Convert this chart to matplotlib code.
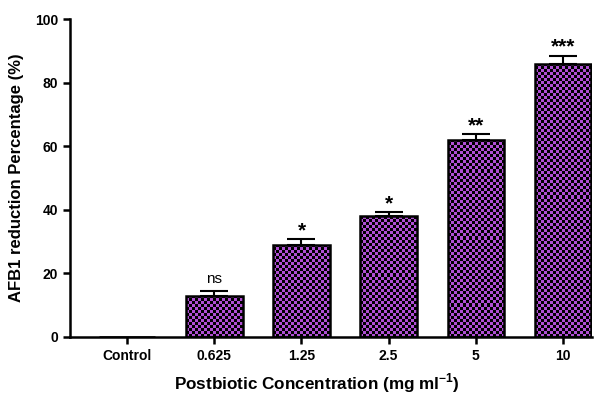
import numpy as np
import matplotlib
matplotlib.use("Agg")
import matplotlib.pyplot as plt
from matplotlib import font_manager
from matplotlib.colors import ListedColormap

plt.rcParams['mathtext.fontset'] = 'custom'
plt.rcParams['mathtext.rm'] = 'Liberation Sans:bold'
plt.rcParams['mathtext.bf'] = 'Liberation Sans:bold'

bold_file = None
for f in font_manager.findSystemFonts():
    if f.endswith("LiberationSans-Bold.ttf"):
        bold_file = f

def bold(size):
    if bold_file:
        return font_manager.FontProperties(fname=bold_file, size=size)
    return font_manager.FontProperties(family="DejaVu Sans", weight="bold", size=size)

categories = ["Control", "0.625", "1.25", "2.5", "5", "10"]
reduction = [0, 13, 29, 38, 62, 86]
errors = [0, 1.5, 1.8, 1.3, 1.8, 2.5]
signif = ["", "ns", "*", "*", "**", "***"]

purple = "#b04fd4"
checker_cmap = ListedColormap([purple, "black"])

fig = plt.figure(figsize=(6.11, 4.03), dpi=100)
ax = fig.add_axes([0.1146, 0.1638, 0.854, 0.789])

x = np.arange(len(categories))
bars = ax.bar(x, reduction, width=0.65, facecolor="none", edgecolor="black",
              linewidth=1.8, zorder=3)
ax.errorbar(x[1:], reduction[1:], yerr=[np.zeros(len(x) - 1), errors[1:]],
            fmt="none", ecolor="black", elinewidth=1.5, capsize=10,
            capthick=1.5, zorder=2)

ax.set_xlim(-0.655, 5.33)
ax.set_ylim(0, 100)

# checkerboard fill clipped to each bar
cell_w = 0.034
cell_h = 0.95
for b in bars:
    h = b.get_height()
    if h <= 0:
        continue
    nx = int(round(b.get_width() / cell_w))
    ny = int(round(h / cell_h))
    ii, jj = np.indices((ny, nx))
    board = (ii + jj) % 2
    im = ax.imshow(board, cmap=checker_cmap, extent=(b.get_x(), b.get_x() + b.get_width(), 0, h),
                   aspect="auto", interpolation="nearest", origin="lower", zorder=2.5)
    im.set_clip_path(b)

for xi, v, e, s in zip(x, reduction, errors, signif):
    if not s:
        continue
    if s == "ns":
        ax.text(xi, v + e + 1.5, s, ha="center", va="bottom", fontsize=11,
                family=["Liberation Sans", "DejaVu Sans"])
    else:
        ax.text(xi, v + e - 0.3, s, ha="center", va="bottom", fontproperties=bold(15))

ax.set_xticks(x)
ax.set_xticklabels(categories, fontproperties=bold(10))
ax.set_yticks([0, 20, 40, 60, 80, 100])
ax.set_yticklabels(["0", "20", "40", "60", "80", "100"], fontproperties=bold(10))
ax.tick_params(axis="both", direction="out", length=5, width=1.8)
ax.tick_params(axis="x", pad=3.5)

for side in ["top", "right"]:
    ax.spines[side].set_visible(False)
for side in ["left", "bottom"]:
    ax.spines[side].set_linewidth(1.8)

ax.set_ylabel("AFB1 reduction Percentage (%)", fontproperties=bold(12), labelpad=8)
fig.text(0.518, 0.05, r"Postbiotic Concentration (mg ml$^{\mathbf{-1}}$)", ha="center", va="center",
         fontproperties=bold(12.3))

fig.savefig("out.png", dpi=100)
